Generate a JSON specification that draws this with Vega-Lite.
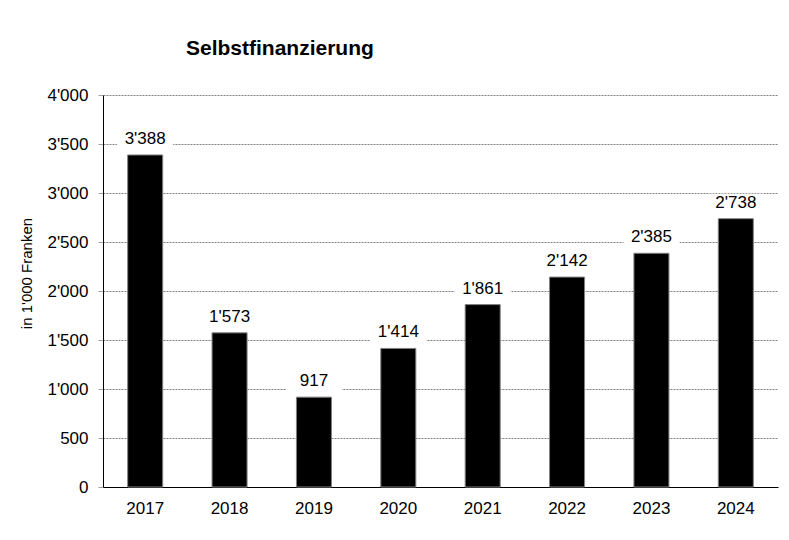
{
  "$schema": "https://vega.github.io/schema/vega-lite/v6.json",
  "width": 675,
  "height": 392,
  "autosize": {"type": "none"},
  "padding": {"left": 103, "top": 95, "right": 11, "bottom": 53},
  "background": "white",
  "title": {"text": "Selbstfinanzierung", "anchor": "start", "frame": "group", "dx": 83, "offset": 27, "fontSize": 21, "fontWeight": "bold", "font": "Liberation Sans", "color": "black"},
  "data": {"values": [
    {"Jahr": "2017", "Wert": 3388},
    {"Jahr": "2018", "Wert": 1573},
    {"Jahr": "2019", "Wert": 917},
    {"Jahr": "2020", "Wert": 1414},
    {"Jahr": "2021", "Wert": 1861},
    {"Jahr": "2022", "Wert": 2142},
    {"Jahr": "2023", "Wert": 2385},
    {"Jahr": "2024", "Wert": 2738}
  ]},
  "encoding": {
    "x": {"field": "Jahr", "type": "ordinal", "scale": {"paddingInner": 0.585, "paddingOuter": 0.2925},
      "axis": {"title": null, "labelAngle": 0, "ticks": false, "domainColor": "black", "domainWidth": 1, "labelPadding": 13, "labelFontSize": 17, "labelFont": "Liberation Sans", "labelColor": "black", "grid": false}},
    "y": {"field": "Wert", "type": "quantitative", "scale": {"domain": [0, 4000], "nice": false},
      "axis": {"values": [0, 500, 1000, 1500, 2000, 2500, 3000, 3500, 4000], "format": ",d", "grid": true, "gridColor": "#808080", "gridDash": [2, 1], "gridWidth": 1, "domainColor": "black", "domainWidth": 1, "tickColor": "#a0a0a0", "tickSize": 5, "labelPadding": 10, "labelFontSize": 17, "labelFont": "Liberation Sans", "labelColor": "black", "title": "in 1'000 Franken", "titleFont": "Liberation Sans", "titleFontSize": 15, "titleFontWeight": "normal", "titleColor": "black", "titlePadding": 12, "titleY": 178, "titleAlign": "center"}}
  },
  "layer": [
    {"mark": {"type": "tick", "color": "white", "size": 56, "thickness": 24, "yOffset": -13, "opacity": 1}},
    {"mark": {"type": "bar", "color": "black", "stroke": "#808080", "strokeWidth": 1}},
    {"mark": {"type": "text", "baseline": "alphabetic", "dy": -11, "fontSize": 17, "font": "Liberation Sans", "color": "black"},
      "encoding": {"text": {"field": "Wert", "type": "quantitative", "format": ",d"}}}
  ],
  "config": {
    "locale": {"number": {"decimal": ".", "thousands": "'", "grouping": [3], "currency": ["", ""]}},
    "view": {"stroke": null},
    "title": {"dx": 83}
  }
}
